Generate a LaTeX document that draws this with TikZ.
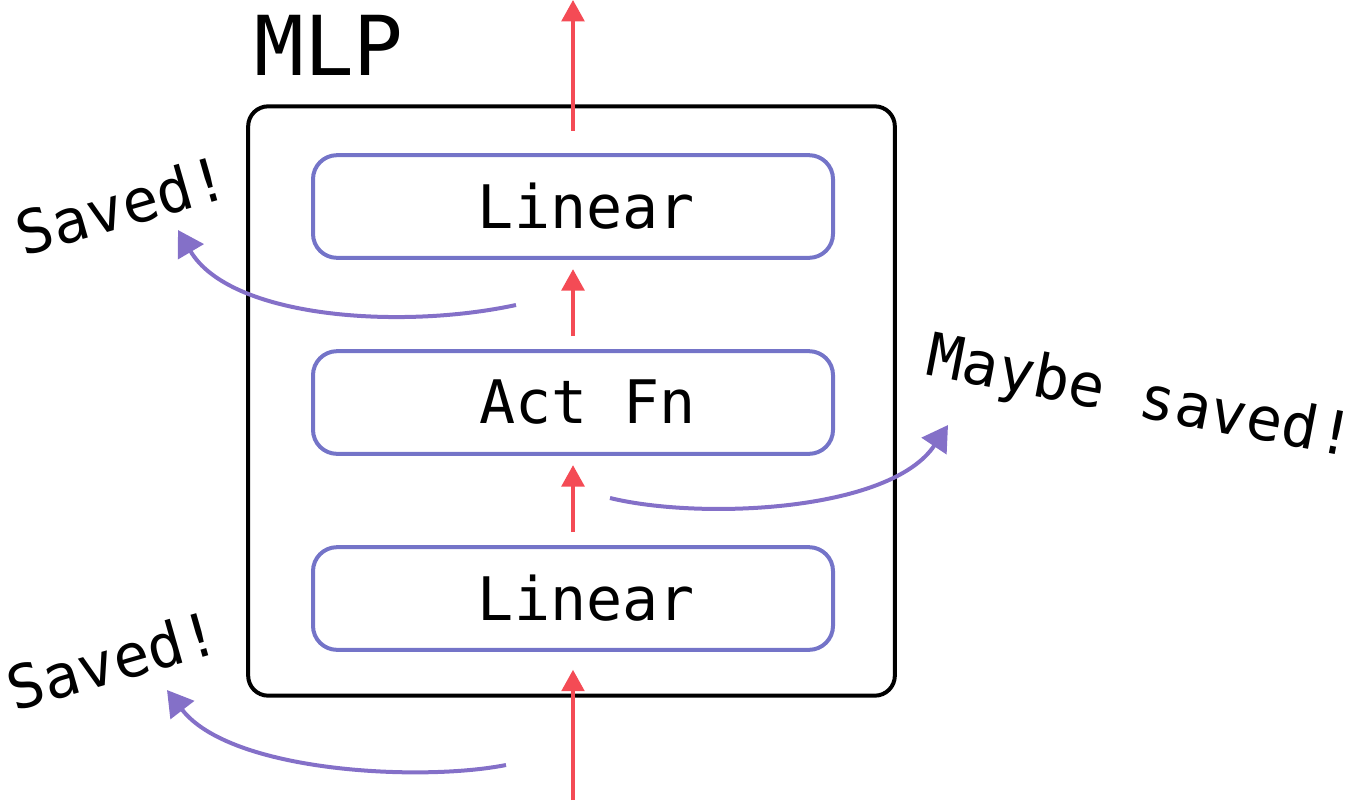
\documentclass[tikz,border=0pt]{standalone}
\usepackage{fontspec}
\setmonofont{DejaVu Sans Mono}
\usetikzlibrary{arrows.meta}
\definecolor{redc}{HTML}{F44B55}
\definecolor{boxc}{HTML}{7474C8}
\definecolor{curvc}{HTML}{8470C8}
\begin{document}
\begin{tikzpicture}[x=0.75pt,y=-0.75pt,
  lbl/.style={font=\ttfamily\fontsize{45}{50}\selectfont, inner sep=0pt},
  layer/.style={draw=boxc, line width=3pt, rounded corners=18pt, minimum width=390pt, minimum height=77pt, lbl},
  outer/.style={draw=black, line width=3pt, rounded corners=15pt, minimum width=485pt, minimum height=442pt},
  flow/.style={draw=redc, line width=2.6pt, -{Triangle[length=16pt,width=17pt]}},
  save/.style={draw=curvc, line width=3pt, -{Triangle[length=19pt,width=22pt]}}]
\useasboundingbox (0,0) rectangle (1362,800);
\node[outer] (mlp) at (571.5,401) {};
\node[font=\ttfamily\fontsize{62}{66}\selectfont, inner sep=0pt, anchor=base] (title) at (329,75) {MLP};
\node[layer] (lin2) at (573,206.5) {\hspace*{20pt}Linear};
\node[layer] (act) at (573,402.5) {\hspace*{22pt}Act Fn};
\node[layer] (lin1) at (573,598.5) {\hspace*{20pt}Linear};
\coordinate (topend) at (573,0);
\coordinate (botstart) at (573,800);
\draw[flow] ([yshift=17pt]lin2.north) -- (topend);
\draw[flow] ([yshift=9.75pt]act.north) -- ([yshift=-7pt]lin2.south);
\draw[flow] ([yshift=9.75pt]lin1.north) -- ([yshift=-7pt]act.south);
\draw[flow] (botstart) -- ([yshift=-13.5pt]lin1.south);
\node[lbl, rotate=16] (s1) at (122,205) {Saved!};
\node[lbl, rotate=-11] (s2) at (1140,400) {Maybe saved!};
\node[lbl, rotate=16] (s3) at (113,660) {Saved!};
\coordinate (c1) at (516,305);
\coordinate (t1) at (178,230);
\coordinate (c2) at (610,498);
\coordinate (t2) at (948,425);
\coordinate (c3) at (506,765);
\coordinate (t3) at (167,690);
\draw[save] (c1) .. controls (400,330) and (230,318) .. (t1);
\draw[save] (c2) .. controls (700,520) and (890,512) .. (t2);
\draw[save] (c3) .. controls (420,782) and (230,772) .. (t3);
\end{tikzpicture}
\end{document}
